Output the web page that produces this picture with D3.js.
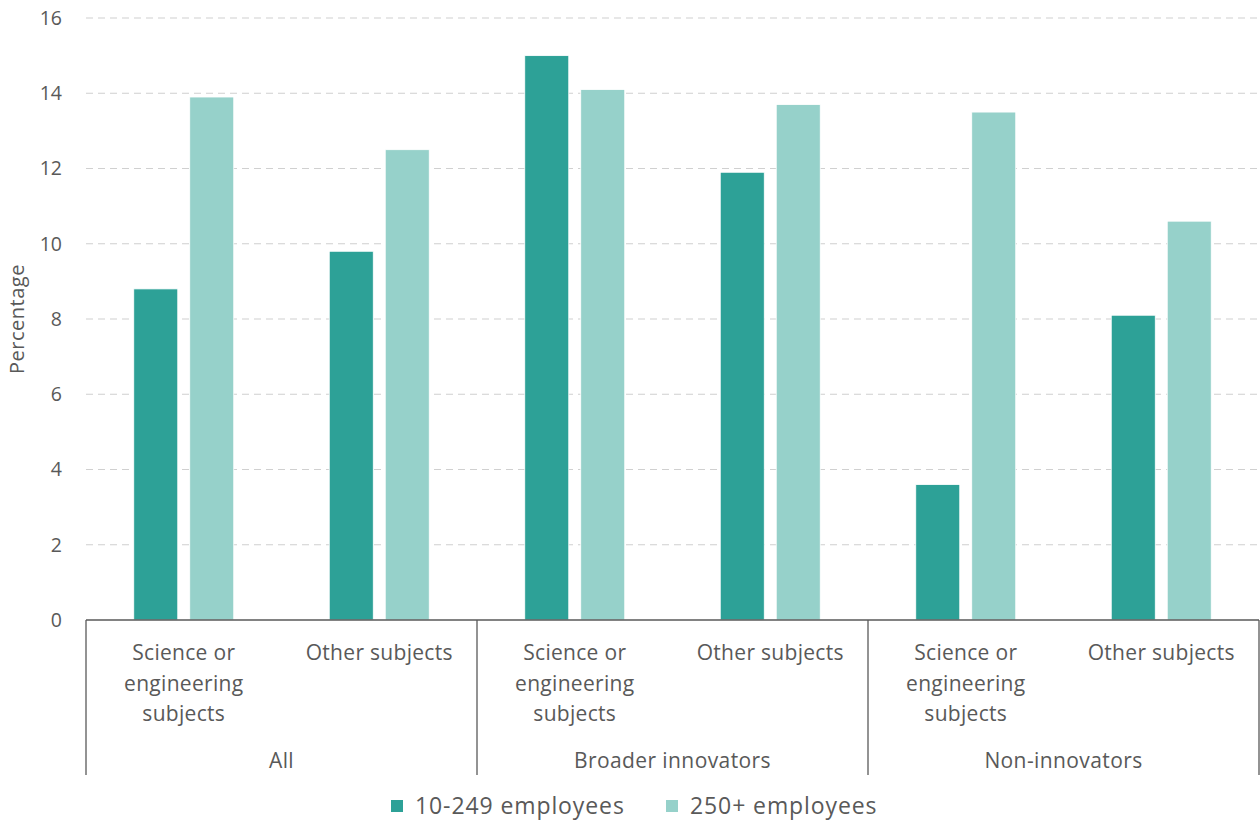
<!DOCTYPE html>
<html>
<head>
<meta charset="utf-8">
<script src="https://cdn.jsdelivr.net/npm/d3@7"></script>
<style>
  html, body { margin: 0; padding: 0; background: #fff; }
  svg text { font-family: "Open Sans", Lato, sans-serif; fill: #595959; }
</style>
</head>
<body>
<svg id="chart" width="1260" height="823"></svg>
<script>
// Data
const groups = ["All", "Broader innovators", "Non-innovators"];
const subjects = ["Science or engineering subjects", "Other subjects"];
const subjectLines = [["Science or", "engineering", "subjects"], ["Other subjects"]];
const seriesNames = ["10-249 employees", "250+ employees"];
const seriesColors = ["#2DA197", "#96D1CA"];
// values per group, per subject: [10-249, 250+]
const small = [8.8, 9.8, 15.0, 11.9, 3.6, 8.1];
const large = [13.9, 12.5, 14.1, 13.7, 13.5, 10.6];
const yTicks = [0, 2, 4, 6, 8, 10, 12, 14, 16];

const svg = d3.select("#chart");
const margin = { left: 86, right: 1259, top: 18, bottom: 620 };

const rows = [];
groups.forEach((g, gi) => {
  subjects.forEach((s, si) => {
    const i = gi * subjects.length + si;
    rows.push({ key: g + "|" + s, group: g, subject: si, values: [small[i], large[i]] });
  });
});

const x0 = d3.scaleBand().domain(rows.map(d => d.key)).range([margin.left, margin.right]).paddingInner(0).paddingOuter(0);
const x1 = d3.scaleBand().domain([0, 1]).range([0, x0.bandwidth()]).paddingInner(0.214).paddingOuter(0.853);
const y = d3.scaleLinear().domain([0, 16]).range([margin.bottom, margin.top]);
const xg = d3.scaleBand().domain(groups).range([margin.left, margin.right]);

// gridlines
svg.append("g").selectAll("line").data(yTicks.filter(t => t > 0)).join("line")
  .attr("x1", margin.left).attr("x2", 1260)
  .attr("y1", d => y(d)).attr("y2", d => y(d))
  .attr("stroke", "#D0D0D0").attr("stroke-width", 1.2).attr("stroke-dasharray", "7,5");

// y-axis tick labels
const yAxis = d3.axisLeft(y).tickValues(yTicks).tickSize(0).tickPadding(24);
const ya = svg.append("g").attr("transform", `translate(${margin.left},0)`).call(yAxis);
ya.select(".domain").remove();
ya.selectAll("text").style("font-size", "19.5px").style("font-family", "'Open Sans', Lato, sans-serif").attr("fill", "#595959");

// bars
const bg = svg.append("g").selectAll("g").data(rows).join("g")
  .attr("transform", d => `translate(${x0(d.key)},0)`);
bg.selectAll("rect").data(d => d.values.map((v, i) => ({ v, i }))).join("rect")
  .attr("x", d => x1(d.i)).attr("width", x1.bandwidth())
  .attr("y", d => y(d.v)).attr("height", d => y(0) - y(d.v))
  .attr("fill", d => seriesColors[d.i])
  .attr("stroke", "#fff").attr("stroke-width", 0.8);

// baseline and group separators
svg.append("line").attr("x1", margin.left).attr("x2", margin.right)
  .attr("y1", y(0)).attr("y2", y(0)).attr("stroke", "#595959").attr("stroke-width", 1.3);
const seps = groups.map(g => xg(g)).concat([margin.right]);
svg.append("g").selectAll("line").data(seps).join("line")
  .attr("x1", d => d).attr("x2", d => d).attr("y1", y(0)).attr("y2", 775)
  .attr("stroke", "#595959").attr("stroke-width", 1.3);

// subject labels
const sl = svg.append("g").selectAll("text").data(rows).join("text")
  .attr("text-anchor", "middle").style("font-size", "21px").style("letter-spacing", "0.3px")
  .attr("x", d => x0(d.key) + x0.bandwidth() / 2).attr("y", 660);
sl.selectAll("tspan").data(d => subjectLines[d.subject]).join("tspan")
  .attr("x", function () { return d3.select(this.parentNode).attr("x"); })
  .attr("dy", (d, i) => i === 0 ? 0 : 30.5)
  .text(d => d);

// group labels
svg.append("g").selectAll("text").data(groups).join("text")
  .attr("text-anchor", "middle").style("font-size", "21px").style("letter-spacing", "0.4px")
  .attr("x", d => xg(d) + xg.bandwidth() / 2).attr("y", 768)
  .text(d => d);

// y-axis title
svg.append("text").attr("transform", "translate(24,319) rotate(-90)")
  .attr("text-anchor", "middle").style("font-size", "20px").style("letter-spacing", "0.5px").text("Percentage");

// legend
const legX = [391, 666];
const lg = svg.append("g").selectAll("g").data(seriesNames).join("g")
  .attr("transform", (d, i) => `translate(${legX[i]},800)`);
lg.append("rect").attr("width", 12).attr("height", 12).attr("fill", (d, i) => seriesColors[i]);
lg.append("text").attr("x", 24).attr("y", 14).style("font-size", "23px").style("letter-spacing", "0.9px").text(d => d);
</script>
</body>
</html>
